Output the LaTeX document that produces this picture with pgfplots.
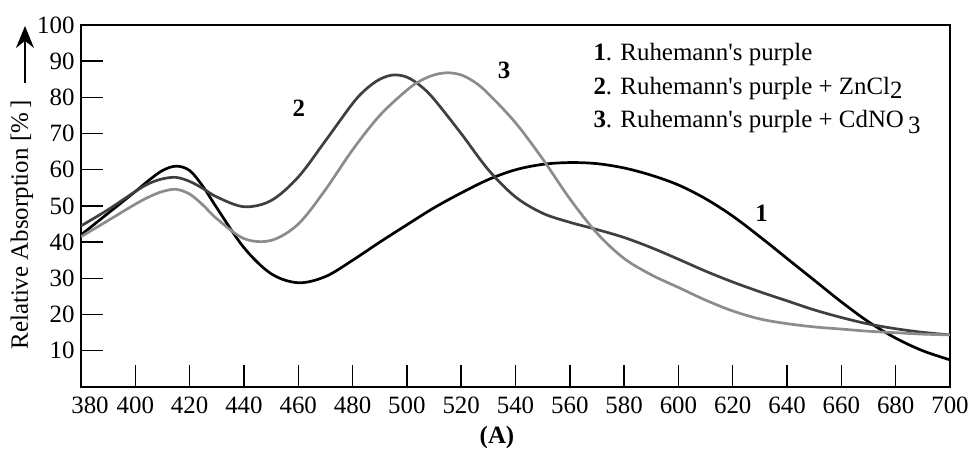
\documentclass[border=0pt]{standalone}
\usepackage{fontspec}
\setmainfont{Liberation Serif}
\usepackage{pgfplots}
\pgfplotsset{compat=1.18}
\usetikzlibrary{arrows.meta}
\definecolor{cdark}{HTML}{3F3F3F}
\definecolor{clight}{HTML}{8C8C8C}
\begin{document}
\fontsize{25}{29}\selectfont
\begin{tikzpicture}
\begin{axis}[
  at={(0,0)}, anchor=south west,
  scale only axis,
  width=869bp, height=362bp,
  xmin=380, xmax=700, ymin=0, ymax=100,
  xtick={380,400,...,700},
  xticklabels={\hspace*{18bp}380,400,420,440,460,480,500,520,540,560,580,600,620,640,660,680,700},
  ytick={10,20,...,100},
  tick align=inside,
  xtick pos=bottom, ytick pos=left,
  major tick length=22bp,
  tick style={line width=1.4bp, black},
  axis line style={line width=1.4bp},
  /pgf/number format/assume math mode=true,
  /pgf/number format/1000 sep={},
  tick label style={font=\fontsize{25}{29}\selectfont},
  xticklabel style={yshift=-1bp},
  yticklabel style={xshift=2bp},
  every axis plot/.append style={line width=2.7bp, smooth, tension=0.55, no markers},
]
\addplot[black] coordinates {
(380,42) (390,48) (400,54) (405,57.1) (410,59.8) (415,61) (420,59.8) (425,55.3) (430,49.5) (440,38.5) (450,31.3) (460,28.8) (470,30.5) (480,35) (490,40) (500,44.8) (510,49.5) (520,53.6) (530,57.3) (540,60) (550,61.5) (560,62) (570,61.7) (580,60.5) (590,58.5) (600,55.8) (610,52) (620,47.2) (630,41.5) (640,35.5) (650,29.5) (660,23.5) (670,18) (680,13.5) (690,10) (700,7.5)
};
\addplot[cdark] coordinates {
(380,44.5) (390,49) (400,54) (405,56.2) (410,57.5) (415,57.9) (420,56.8) (425,54.8) (430,52.5) (440,49.8) (450,51.5) (460,58) (470,68) (480,78.3) (485,82.3) (490,85) (495,86.2) (500,85.6) (505,83.2) (510,79.5) (520,70) (530,60) (540,52.5) (550,48) (560,45.5) (570,43.5) (580,41.3) (590,38.5) (600,35.3) (610,32) (620,29) (630,26.3) (640,23.8) (650,21.3) (660,19.2) (670,17.4) (680,16.1) (690,15.1) (700,14.4)
};
\addplot[clight] coordinates {
(380,41.5) (390,46) (400,50.5) (405,52.5) (410,54) (415,54.6) (420,53.3) (425,50.2) (430,46.5) (440,41) (450,40.5) (460,45) (470,54.5) (480,65.5) (490,75) (500,82) (505,84.6) (510,86.2) (515,86.8) (520,86.2) (525,84.2) (530,81) (540,73) (550,63) (560,52) (570,42.5) (580,35.5) (590,31) (600,27.5) (610,24) (620,21) (630,18.8) (640,17.5) (650,16.6) (660,16) (670,15.4) (680,15) (690,14.6) (700,14.4)
};
\node[font=\bfseries] at (axis cs:460.2,77.1) {2};
\node[font=\bfseries] at (axis cs:535.8,87.6) {3};
\node[font=\bfseries] at (axis cs:630.6,48.1) {1};
\end{axis}
\node[anchor=west] at (504bp,332bp) {\textbf{1}. Ruhemann\textquotesingle s purple};
\node[anchor=west] at (504bp,298bp) {\textbf{2}. Ruhemann\textquotesingle s purple + ZnCl\raisebox{-0.3ex}{2}};
\node[anchor=west] at (504bp,265bp) {\textbf{3}. Ruhemann\textquotesingle s purple + CdNO\,\raisebox{-0.6ex}{3}};
\node[rotate=90] at (-59bp,162bp) {Relative Absorption [\%\,]};
\draw[line width=1.4bp, -{Stealth[length=22bp,width=18bp]}] (-56bp,304bp) -- (-56bp,361bp);
\node[font=\bfseries] at (416bp,-51bp) {(A)};
\pgfresetboundingbox
\path[use as bounding box] (-81bp,-64bp) rectangle (894bp,387bp);
\end{tikzpicture}
\end{document}
